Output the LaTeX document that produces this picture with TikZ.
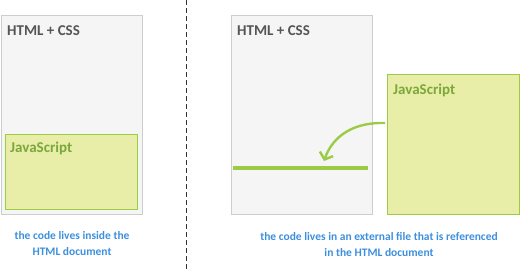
\documentclass[tikz,border=0pt]{standalone}
\usepackage{fontspec}
\setmainfont{Carlito}
\usetikzlibrary{arrows.meta,positioning}

\definecolor{pagegrey}{HTML}{F5F5F5}
\definecolor{pageedge}{HTML}{CDCDCD}
\definecolor{jsfill}{HTML}{E8EDA8}
\definecolor{jsedge}{HTML}{9CCB45}
\definecolor{jstext}{HTML}{7BA83A}
\definecolor{titletext}{HTML}{555555}
\definecolor{notetext}{HTML}{3D8FDD}

\begin{document}
\begin{tikzpicture}[
  x=1pt, y=-1pt,
  font=\bfseries\fontsize{15}{17}\selectfont,
  page/.style={draw=pageedge, line width=1.2pt, fill=pagegrey, anchor=north west, inner sep=0pt},
  script/.style={draw=jsedge, line width=1.2pt, fill=jsfill, anchor=north west, inner sep=0pt},
  head/.style={anchor=west, text=titletext, inner sep=0pt},
  jshead/.style={anchor=west, text=jstext, inner sep=0pt},
  note/.style={text=notetext, align=center, font=\bfseries\fontsize{11.5}{16}\selectfont, inner sep=0pt},
  link/.style={draw=jsedge, line width=2.4pt, -{Straight Barb[length=6pt,width=14pt,line width=2.4pt]}}
]
\useasboundingbox (0,0) rectangle (520,269);

% inline: script sits inside the page
\node[page, minimum width=141pt, minimum height=199pt] (inpage) at (1,15) {};
\node[script, minimum width=132pt, minimum height=75pt] (injs) at (5,134) {};
\node[head] (inhead) at (7,31) {HTML + CSS};
\node[jshead] (injshead) at (10,148) {JavaScript};
\node[note] (innote) at (72,244) {the code lives inside the\\HTML document};

% divider
\draw[line width=1pt, dash pattern=on 5pt off 3pt, black!80] (186,0) -- (186,269);

% external: script file outside, referenced by the page
\node[page, minimum width=141pt, minimum height=199pt] (expage) at (231,15) {};
\node[script, minimum width=132pt, minimum height=140pt] (exjs) at (387,74) {};
\node[head] (exhead) at (237,31) {HTML + CSS};
\node[jshead] (exjshead) at (393,90) {JavaScript};
\node[note] (exnote) at (379,244) {the code lives in an external file that is referenced\\in the HTML document};

\coordinate (refl) at (233,168);
\coordinate (refr) at (368,168);
\draw[draw=jsedge, line width=4pt] (refl) -- (refr);

\coordinate (from) at (385,123);
\coordinate (to) at (324,161);
\draw[link] (from) .. controls (355,122) and (333,135) .. (to);
\end{tikzpicture}
\end{document}
